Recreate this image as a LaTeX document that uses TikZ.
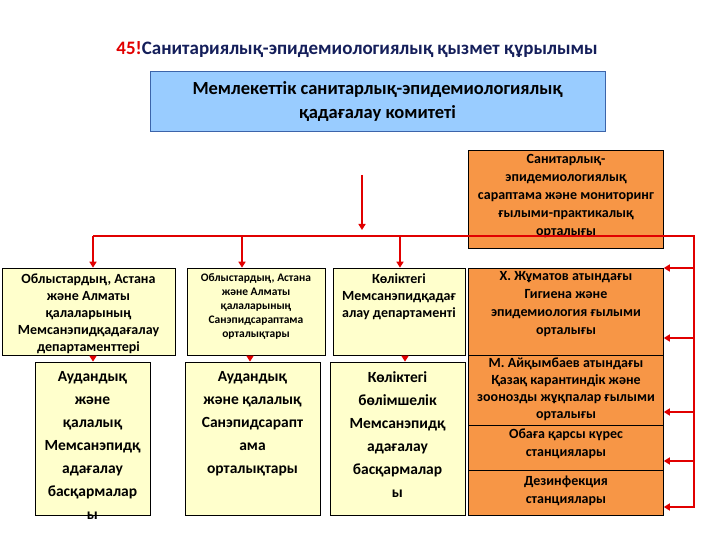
\documentclass[tikz,border=0pt]{standalone}
\usepackage{fontspec}
\setmainfont{Carlito}
\usetikzlibrary{arrows.meta}
\definecolor{lblue}{RGB}{153,204,255}
\definecolor{bord}{RGB}{60,100,170}
\definecolor{ylw}{RGB}{255,255,204}
\definecolor{org}{RGB}{247,150,70}
\definecolor{rd}{RGB}{225,0,0}
\definecolor{ttl}{RGB}{20,30,90}
\tikzset{
 bx/.style={draw=black,line width=0.6pt,inner sep=0pt},
 yb/.style={bx,fill=ylw},
 ob/.style={bx,fill=org},
 tx/.style={anchor=north,align=center,inner sep=0pt,font=\bfseries},
 rl/.style={draw=rd,line width=2.2pt},
 ra/.style={rl,-{Triangle[length=6pt,width=7pt]}}
}
\begin{document}
\begin{tikzpicture}[x=1pt,y=-1pt]
\useasboundingbox (0,0) rectangle (720,540);
\node[font=\fontsize{19}{22}\selectfont\bfseries,text=ttl] (title) at (357,50) {\textcolor{rd}{45!}Санитариялық-эпидемиологиялық қызмет құрылымы};
\node[draw=bord,line width=1pt,fill=lblue,minimum width=455pt,minimum height=60pt,align=center,font=\fontsize{18.5}{24}\selectfont\bfseries] (top) at (377.5,102) {Мемлекеттік санитарлық-эпидемиологиялық\\қадағалау комитеті};
% orange column
\node[ob,minimum width=195pt,minimum height=98pt] (o1) at (566,199) {};
\node[tx,font=\fontsize{14}{18}\selectfont\bfseries] at ([yshift=-4pt]o1.north) {Санитарлық-\\эпидемиологиялық\\сараптама және мониторинг\\ғылыми-практикалық\\орталығы};
\node[ob,minimum width=195pt,minimum height=87pt] (o2) at (566,311.5) {};
\node[tx,font=\fontsize{14}{18}\selectfont\bfseries] at ([yshift=-4pt]o2.north) {Х. Жұматов атындағы\\Гигиена және\\эпидемиология ғылыми\\орталығы};
\node[ob,minimum width=195pt,minimum height=70pt] (o3) at (566,390) {};
\node[tx,font=\fontsize{14}{17}\selectfont\bfseries] at ([yshift=-3pt]o3.north) {М. Айқымбаев атындағы\\Қазақ карантиндік және\\зоонозды жұқпалар ғылыми\\орталығы};
\node[ob,minimum width=195pt,minimum height=45pt] (o4) at (566,447.5) {};
\node[tx,font=\fontsize{14}{18}\selectfont\bfseries] at ([yshift=-4pt]o4.north) {Обаға қарсы күрес\\станциялары};
\node[ob,minimum width=195pt,minimum height=45pt] (o5) at (566,492.5) {};
\node[tx,font=\fontsize{14}{18}\selectfont\bfseries] at ([yshift=-6pt]o5.north) {Дезинфекция\\станциялары};
% yellow upper row
\node[yb,minimum width=173pt,minimum height=87pt] (y1) at (88.5,311.5) {};
\node[tx,font=\fontsize{14}{17}\selectfont\bfseries] at ([yshift=-6pt]y1.north) {Облыстардың, Астана\\және Алматы\\қалаларының\\Мемсанэпидқадағалау\\департаменттері};
\node[yb,minimum width=138pt,minimum height=87pt] (y2) at (256,311.5) {};
\node[tx,font=\fontsize{11.5}{14}\selectfont\bfseries] at ([yshift=-6pt]y2.north) {Облыстардың, Астана\\және Алматы\\қалаларының\\Санэпидсараптама\\орталықтары};
\node[yb,minimum width=132pt,minimum height=87pt] (y3) at (399,311.5) {};
\node[tx,font=\fontsize{14}{17}\selectfont\bfseries] at ([yshift=-6pt]y3.north) {Көліктегі\\Мемсанэпидқадағ\\алау департаменті};
% yellow lower row
\node[yb,minimum width=115pt,minimum height=153pt] (z1) at (92.5,438.5) {};
\node[tx,font=\fontsize{15.5}{23}\selectfont\bfseries] at ([yshift=-10pt]z1.north) {Аудандық\\және\\қалалық\\Мемсанэпидқ\\адағалау\\басқармалар\\ы};
\node[yb,minimum width=135pt,minimum height=153pt] (z2) at (252.5,438.5) {};
\node[tx,font=\fontsize{15.5}{23}\selectfont\bfseries] at ([yshift=-10pt]z2.north) {Аудандық\\және қалалық\\Санэпидсарапт\\ама\\орталықтары};
\node[yb,minimum width=135pt,minimum height=153pt] (z3) at (397.5,438.5) {};
\node[tx,font=\fontsize{15.5}{23}\selectfont\bfseries] at ([yshift=-10pt]z3.north) {Көліктегі\\бөлімшелік\\Мемсанэпидқ\\адағалау\\басқармалар\\ы};
% connectors
\coordinate (a0) at (362,175);
\coordinate (a1) at (362,230);
\draw[ra] (a0) -- (a1);
\coordinate (hl) at (93,236);
\coordinate (hm) at (242,236);
\coordinate (hn) at (400,236);
\coordinate (hr) at (694,236);
\draw[rl] (hl) -- (hr);
\draw[ra] (hl) -- (hl |- y1.north);
\draw[ra] (hm) -- (hm |- y2.north);
\draw[ra] (hn) -- (hn |- y3.north);
\draw[rl] (694,235) -- (694,508);
\foreach \n/\yy in {o1/268,o2/338,o3/412,o4/461,o5/507}{
  \draw[ra] (694,\yy) -- (\n.east |- 0,\yy);
}
\coordinate (b1) at (93,356);
\coordinate (b2) at (250,356);
\coordinate (b3) at (405,356);
\draw[ra] (b1) -- (b1 |- z1.north);
\draw[ra] (b2) -- (b2 |- z2.north);
\draw[ra] (b3) -- (b3 |- z3.north);
\end{tikzpicture}
\end{document}
